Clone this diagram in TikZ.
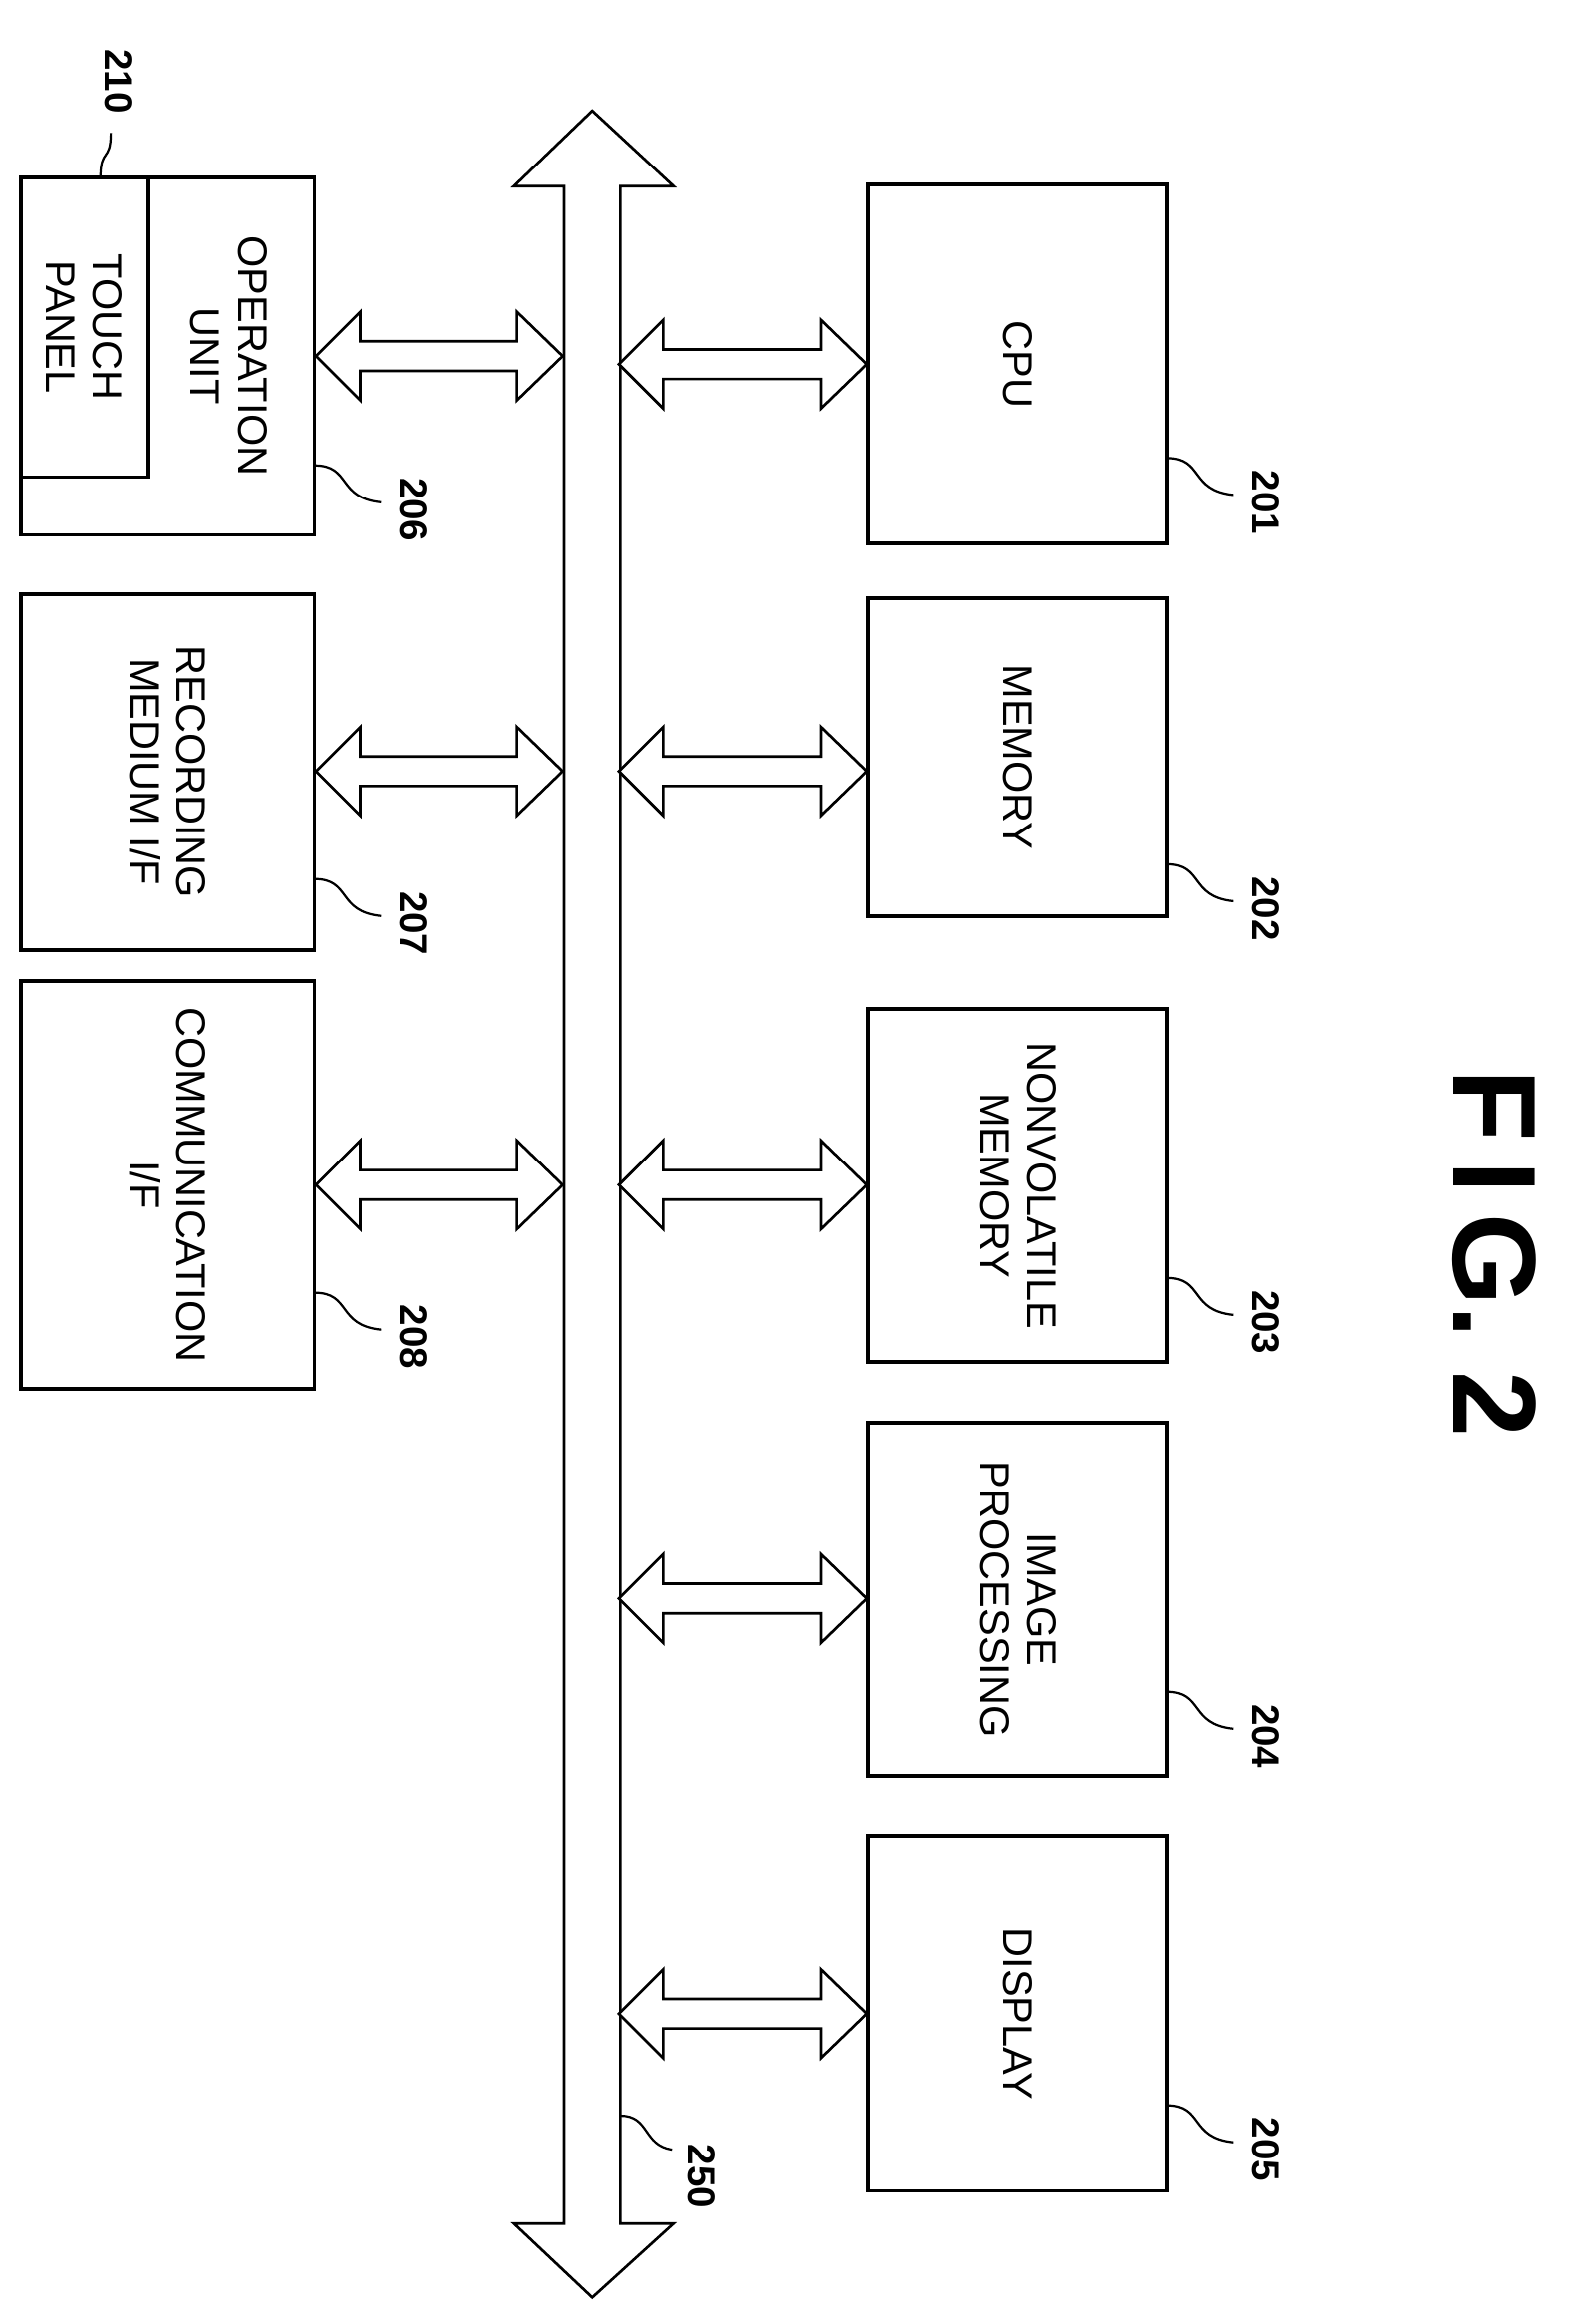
\documentclass[tikz,border=0pt]{standalone}
\usepackage{fontspec}
\setmainfont{Liberation Sans}
\begin{document}
\begin{tikzpicture}[x=1pt,y=-1pt,
  box/.style={draw,line width=2.5pt},
  lbl/.style={rotate=-90,font=\fontsize{28}{32}\selectfont,align=center},
  num/.style={rotate=-90,font=\fontsize{26}{30}\selectfont\bfseries},
  arr/.style={draw,line width=1.8pt,fill=white},
  lead/.style={line width=1.5pt}]
\useasboundingbox (0,0) rectangle (1080,1571);
% bus
\draw[arr] (401,75) -- (456,126) -- (420,126) -- (420,1505) -- (456,1505) -- (401,1555) -- (348,1505) -- (382,1505) -- (382,126) -- (348,126) -- cycle;
\coordinate (busL) at (382,800);
% right boxes
\node[box,minimum width=202pt,minimum height=243pt] (cpu) at (689,246.5) {};
\node[box,minimum width=202pt,minimum height=215pt] (mem) at (689,512.5) {};
\node[box,minimum width=202pt,minimum height=239pt] (nvm) at (689,802.5) {};
\node[box,minimum width=202pt,minimum height=239pt] (img) at (689,1082.5) {};
\node[box,minimum width=202pt,minimum height=240pt] (disp) at (689,1363) {};
\node[lbl] at (cpu) {CPU};
\node[lbl] at (mem) {MEMORY};
\node[lbl] at (nvm) {NONVOLATILE\\MEMORY};
\node[lbl] at (img) {IMAGE\\PROCESSING};
\node[lbl] at (disp) {DISPLAY};
% left boxes
\node[box,minimum width=199pt,minimum height=242pt] (op) at (113.5,241) {};
\node[box,minimum width=86pt,minimum height=203pt] (tp) at (57,221.5) {};
\node[box,minimum width=199pt,minimum height=241pt] (rec) at (113.5,522.5) {};
\node[box,minimum width=199pt,minimum height=276pt] (com) at (113.5,802) {};
\node[lbl] at (155,241) {OPERATION\\UNIT};
\node[lbl] at (tp) {TOUCH\\PANEL};
\node[lbl] at (rec) {RECORDING\\MEDIUM I/F};
\node[lbl] at (com) {COMMUNICATION\\I/F};
% horizontal double arrows
\foreach \y in {246.5,522,802,1082,1363}{
  \draw[arr] (419,\y) -- (449,\y-30) -- (449,\y-10) -- (556,\y-10) -- (556,\y-30) -- (587,\y) -- (556,\y+30) -- (556,\y+10) -- (449,\y+10) -- (449,\y+30) -- cycle;}
\foreach \y in {241,522,802}{
  \draw[arr] (214,\y) -- (244,\y-30) -- (244,\y-10) -- (350,\y-10) -- (350,\y-30) -- (381,\y) -- (350,\y+30) -- (350,\y+10) -- (244,\y+10) -- (244,\y+30) -- cycle;}
% reference numbers
\foreach \n/\y in {201/310,202/585,203/865,204/1145,205/1425}{
  \draw[lead] (790,\y) .. controls (815,\y) and (805,\y+22) .. (835,\y+25);
  \node[num] at (857,\y+30) {\n};}
\foreach \n/\y in {206/315,207/595,208/875}{
  \draw[lead] (213,\y) .. controls (238,\y) and (228,\y+22) .. (258,\y+25);
  \node[num] at (280,\y+30) {\n};}
\draw[lead] (68,120) .. controls (68,100) and (75,110) .. (75,90);
\node[num] at (80,55) {210};
\draw[lead] (420,1432) .. controls (440,1432) and (435,1452) .. (455,1455);
\node[num] at (475,1473) {250};
\node[rotate=-90,font=\fontsize{80}{90}\selectfont\bfseries] at (1012,848) {F\,I\,G.\ 2};
\end{tikzpicture}
\end{document}
